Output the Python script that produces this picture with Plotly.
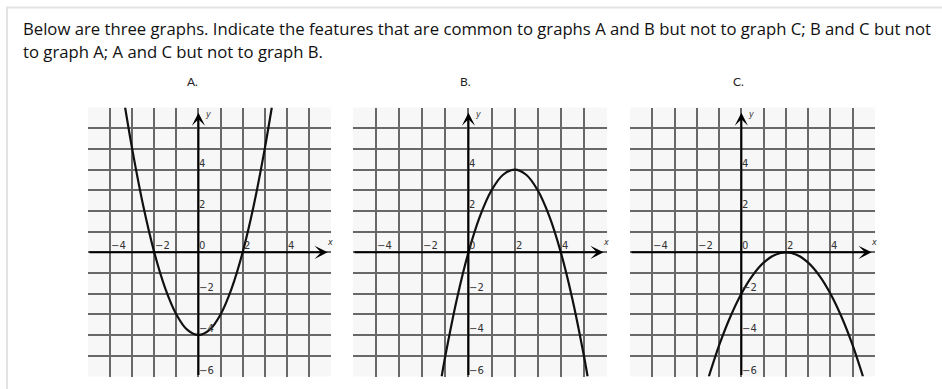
import plotly.graph_objects as go

W, H = 942, 389

# Text
title_lines = [
    "Below are three graphs. Indicate the features that are common to graphs A and B but not to graph C; B and C but not",
    "to graph A; A and C but not to graph B.",
]
panel_names = ["A.", "B.", "C."]

# Points on each parabola, read at grid crossings and half steps
a_x = [-3.32, -3, -2.5, -2, -1.5, -1, -0.5, 0, 0.5, 1, 1.5, 2, 2.5, 3, 3.32]
a_y = [7, 5, 2.25, 0, -1.75, -3, -3.75, -4, -3.75, -3, -1.75, 0, 2.25, 5, 7]
b_x = [-1.16, -1, -0.5, 0, 0.5, 1, 1.5, 2, 2.5, 3, 3.5, 4, 4.5, 5, 5.16]
b_y = [-6, -5, -2.25, 0, 1.75, 3, 3.75, 4, 3.75, 3, 1.75, 0, -2.25, -5, -6]
c_x = [-1.46, -1, -0.5, 0, 0.5, 1, 1.5, 2, 2.5, 3, 3.5, 4, 4.5, 5, 5.46]
c_y = [-6, -4.5, -3.125, -2, -1.125, -0.5, -0.125, 0, -0.125, -0.5, -1.125, -2, -3.125, -4.5, -6]

# Axis ranges and labelled ticks
x_range = [-5, 6]
y_range = [-6, 7]
x_grid = list(range(-5, 7))
y_grid = list(range(-5, 8))
x_labels = [-4, -2, 0, 2, 4]
y_labels = [4, 2, -2, -4, -6]

# Panel placement in pixels (left, right), shared top/bottom
panel_px = [(88, 331), (353, 607), (630, 875)]
top_px, bot_px = 107.5, 376.5

fig = go.Figure()

curves = [(a_x, a_y), (b_x, b_y), (c_x, c_y)]
annotations = []
shapes = []

grid_color = "#686868"
label_font = dict(family="DejaVu Sans", size=10, color="#333333")

for i, ((cx, cy), (l, r)) in enumerate(zip(curves, panel_px)):
    n = "" if i == 0 else str(i + 1)
    xa, ya = "x" + n, "y" + n
    fig.add_trace(go.Scatter(
        x=cx, y=cy, mode="lines", xaxis=xa, yaxis=ya,
        line=dict(color="#111111", width=2.2, shape="spline", smoothing=0.8),
        hoverinfo="skip", showlegend=False,
    ))
    axis_common = dict(showticklabels=False, ticks="", zeroline=False,
                       showline=False, showgrid=True, gridcolor=grid_color,
                       gridwidth=1.7, fixedrange=True)
    fig.update_layout(**{
        ("xaxis" + n): dict(domain=[l / W, r / W], range=x_range,
                            tickvals=x_grid, anchor=ya, **axis_common),
        ("yaxis" + n): dict(domain=[1 - bot_px / H, 1 - top_px / H], range=y_range,
                            tickvals=y_grid, anchor=xa, **axis_common),
    })
    # x axis with arrow
    annotations.append(dict(
        x=5.85, y=0, ax=-5, ay=0, xref=xa, yref=ya, axref=xa, ayref=ya,
        showarrow=True, arrowhead=3, arrowsize=1.1, arrowwidth=2,
        arrowcolor="#000000", text="",
    ))
    # y axis with arrow
    annotations.append(dict(
        x=0, y=6.75, ax=0, ay=-6, xref=xa, yref=ya, axref=xa, ayref=ya,
        showarrow=True, arrowhead=3, arrowsize=1.1, arrowwidth=2,
        arrowcolor="#000000", text="",
    ))
    annotations.append(dict(
        x=5.75, y=0.15, xref=xa, yref=ya, text="<i>x</i>", showarrow=False,
        xanchor="left", yanchor="bottom",
        font=dict(family="DejaVu Sans", size=8, color="#333333"),
    ))
    annotations.append(dict(
        x=0.2, y=6.65, xref=xa, yref=ya, text="<i>y</i>", showarrow=False,
        xanchor="left", yanchor="middle",
        font=dict(family="DejaVu Sans", size=8, color="#333333"),
    ))
    for v in x_labels:
        annotations.append(dict(
            x=v, y=0, xref=xa, yref=ya, text=str(v).replace("-", "\u2212"),
            showarrow=False, xanchor="left", yanchor="bottom",
            xshift=-1, yshift=-1, font=label_font,
        ))
    for v in y_labels:
        annotations.append(dict(
            x=0, y=v, xref=xa, yref=ya, text=str(v).replace("-", "\u2212"),
            showarrow=False, xanchor="left", yanchor="bottom",
            xshift=-1, yshift=-1, font=label_font,
        ))

# Panel names
for name, px in zip(panel_names, [192, 465, 738]):
    annotations.append(dict(
        x=px / W, y=1 - 82 / H, xref="paper", yref="paper", text=name,
        showarrow=False, xanchor="center", yanchor="middle",
        font=dict(family="Lato", size=12, color="#222222"),
    ))

# Question text
for k, line in enumerate(title_lines):
    annotations.append(dict(
        x=21 / W, y=1 - (29 + 22.4 * k) / H, xref="paper", yref="paper",
        text=line, showarrow=False, xanchor="left", yanchor="middle",
        font=dict(family="Open Sans", size=16.7, color="#111111"),
    ))

# Light frame around the question
shapes.append(dict(
    type="rect", xref="paper", yref="paper",
    x0=7 / W, x1=1.02, y0=-0.05, y1=1 - 7.5 / H,
    line=dict(color="#e3e3e3", width=2), fillcolor="rgba(0,0,0,0)", layer="below",
))

fig.update_layout(
    width=W, height=H,
    margin=dict(l=0, r=0, t=0, b=0),
    paper_bgcolor="#ffffff",
    plot_bgcolor="#f7f7f7",
    annotations=annotations,
    shapes=shapes,
    showlegend=False,
)

fig.write_html("out.html", config={"displayModeBar": False})
